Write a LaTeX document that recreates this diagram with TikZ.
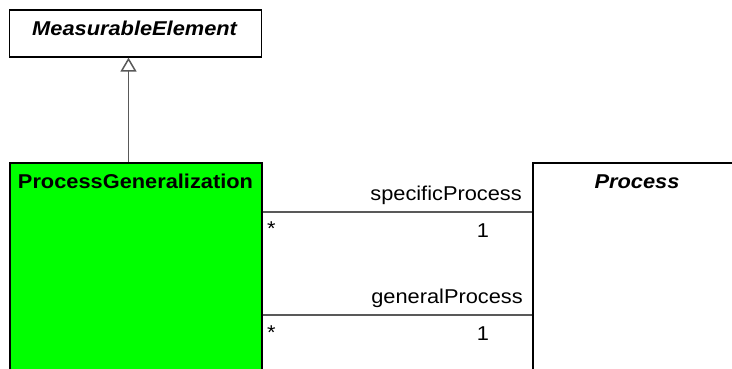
\documentclass[tikz,border=0pt]{standalone}
\usepackage{fontspec}
\setmainfont{Liberation Sans}
\usetikzlibrary{calc,arrows.meta}
\newcommand{\hs}[1]{\scalebox{1.09}[1]{#1}}
\begin{document}
\begin{tikzpicture}[x=1pt,y=-1pt,
  cls/.style={draw=black, line width=1.6pt, anchor=north west, inner sep=0pt},
  lbl/.style={font=\fontsize{20}{22}\selectfont, inner sep=0pt},
  assoc/.style={draw=black!65, line width=1.5pt}]
\useasboundingbox (0,0) rectangle (732,368);
\clip (0,0) rectangle (732,368);
\node[cls, fill=white, minimum width=252pt, minimum height=47pt] (me) at (8.5,9) {};
\node[cls, fill=green, minimum width=252pt, minimum height=240pt] (pg) at (9,162) {};
\node[cls, fill=white, minimum width=240pt, minimum height=240pt] (pr) at (532,162) {};
\node[lbl, anchor=base] (metxt) at (135,35.5) {\hs{\textbf{\textit{MeasurableElement}}}};
\node[lbl, anchor=base] (pgtxt) at (135.5,188.5) {\hs{\textbf{ProcessGeneralization}}};
\node[lbl, anchor=base] (prtxt) at (637,188.5) {\hs{\textbf{\textit{Process}}}};
\draw[assoc, -{Triangle[open, length=14pt, width=16pt, fill=white]}]
  ($(pg.north west)+(119.5,0)$) -- ($(me.south west)+(120,0)$);
\draw[assoc] ($(pg.north east)+(0,50)$) -- ($(pr.north west)+(0,50)$);
\draw[assoc] ($(pg.north east)+(0,153)$) -- ($(pr.north west)+(0,153)$);
\node[lbl, anchor=base east] (sp) at (522,200.5) {\hs{specificProcess}};
\node[lbl, anchor=north west] (s1) at (267,222) {\hs{*}};
\node[lbl, anchor=base] (o1) at (483,237.5) {\hs{1}};
\node[lbl, anchor=base east] (gp) at (523,303.5) {\hs{generalProcess}};
\node[lbl, anchor=north west] (s2) at (267,326) {\hs{*}};
\node[lbl, anchor=base] (o2) at (483,340.5) {\hs{1}};
\end{tikzpicture}
\end{document}
